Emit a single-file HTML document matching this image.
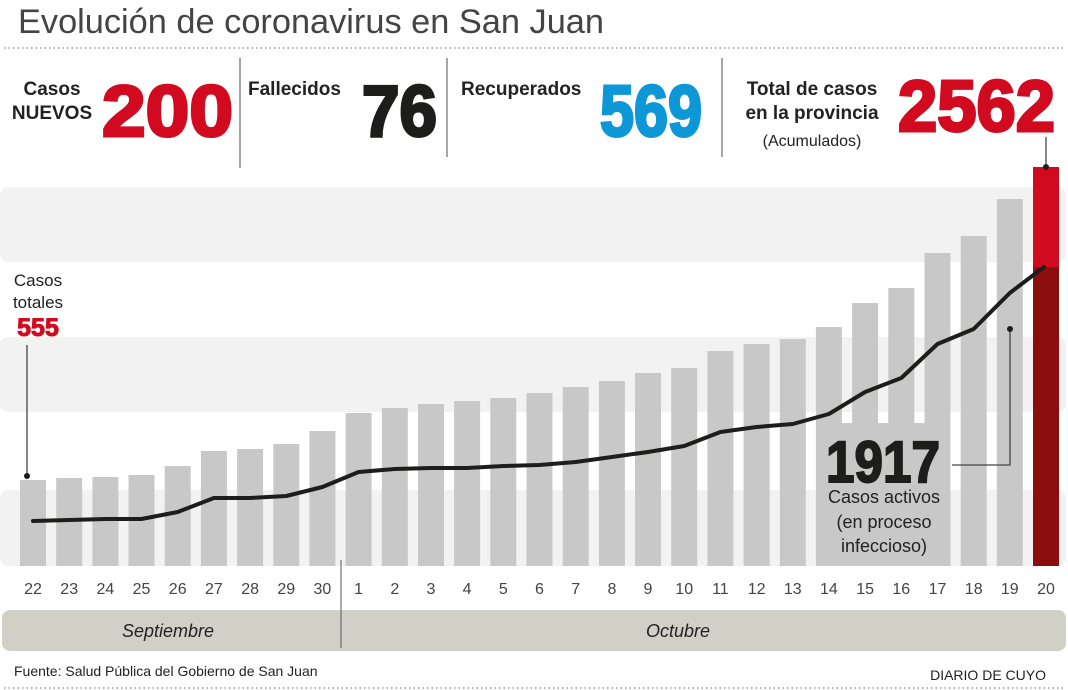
<!DOCTYPE html>
<html><head><meta charset="utf-8"><style>
html,body{margin:0;padding:0;background:#fff;}
svg{display:block;font-family:"Liberation Sans",Arial,sans-serif;}
</style></head><body>
<svg width="1068" height="690" viewBox="0 0 1068 690" xmlns="http://www.w3.org/2000/svg">
<text x="18" y="33" font-size="34" fill="#444" textLength="586" lengthAdjust="spacingAndGlyphs">Evolución de coronavirus en San Juan</text>
<line x1="4" y1="48" x2="1066" y2="48" stroke="#999" stroke-width="1.5" stroke-dasharray="1.5 3"/>

<g font-weight="bold" font-size="19" fill="#222">
<text x="52" y="95" text-anchor="middle">Casos</text>
<text x="52" y="119" text-anchor="middle">NUEVOS</text>
<text x="248" y="95">Fallecidos</text>
<text x="461" y="95">Recuperados</text>
<text x="812" y="95" text-anchor="middle">Total de casos</text>
<text x="812" y="119" text-anchor="middle">en la provincia</text>
</g>
<text x="812" y="146" text-anchor="middle" font-size="16" fill="#222">(Acumulados)</text>
<g font-weight="900" font-size="72" font-family="'Liberation Sans',Arial,sans-serif">
<text x="102" y="136" fill="#d20a20" textLength="131" lengthAdjust="spacingAndGlyphs" stroke="#d20a20" stroke-width="3">200</text>
<text x="362" y="136" fill="#1d1d1b" textLength="75" lengthAdjust="spacingAndGlyphs" stroke="#1d1d1b" stroke-width="3">76</text>
<text x="600" y="136" fill="#0e97d6" textLength="102" lengthAdjust="spacingAndGlyphs" stroke="#0e97d6" stroke-width="3">569</text>
<text x="898" y="131" fill="#d20a20" textLength="157" lengthAdjust="spacingAndGlyphs" stroke="#d20a20" stroke-width="3">2562</text>
</g>
<g stroke="#888" stroke-width="1.5">
<line x1="240" y1="58" x2="240" y2="168"/>
<line x1="447" y1="58" x2="447" y2="157"/>
<line x1="722" y1="58" x2="722" y2="157"/>
</g>

<g fill="#f2f2f2">
<rect x="0" y="187" width="1066" height="75" rx="8"/>
<rect x="0" y="337" width="1066" height="75" rx="8"/>
<rect x="0" y="490" width="1066" height="76" rx="8"/>
</g>
<rect x="817" y="423" width="133" height="143" fill="#c8c8c8"/>
<g fill="#c8c8c8">
<rect x="20" y="480" width="26" height="86"/>
<rect x="56.2" y="478" width="26" height="88"/>
<rect x="92.4" y="477" width="26" height="89"/>
<rect x="128.5" y="475" width="26" height="91"/>
<rect x="164.7" y="466" width="26" height="100"/>
<rect x="200.9" y="451" width="26" height="115"/>
<rect x="237.1" y="449" width="26" height="117"/>
<rect x="273.3" y="444" width="26" height="122"/>
<rect x="309.4" y="431" width="26" height="135"/>
<rect x="345.6" y="413" width="26" height="153"/>
<rect x="381.8" y="408" width="26" height="158"/>
<rect x="418" y="404" width="26" height="162"/>
<rect x="454.1" y="401" width="26" height="165"/>
<rect x="490.3" y="398" width="26" height="168"/>
<rect x="526.5" y="393" width="26" height="173"/>
<rect x="562.7" y="387" width="26" height="179"/>
<rect x="598.9" y="381" width="26" height="185"/>
<rect x="635" y="373" width="26" height="193"/>
<rect x="671.2" y="368" width="26" height="198"/>
<rect x="707.4" y="351" width="26" height="215"/>
<rect x="743.6" y="344" width="26" height="222"/>
<rect x="779.8" y="339" width="26" height="227"/>
<rect x="815.9" y="327" width="26" height="239"/>
<rect x="852.1" y="303" width="26" height="263"/>
<rect x="888.3" y="288" width="26" height="278"/>
<rect x="924.5" y="253" width="26" height="313"/>
<rect x="960.7" y="236" width="26" height="330"/>
<rect x="996.8" y="199" width="26" height="367"/>
</g>
<rect x="1033" y="167" width="26" height="100" fill="#d20a20"/>
<rect x="1033" y="267" width="26" height="299" fill="#8b0d0e"/>

<polyline fill="none" stroke="#1d1d1b" stroke-width="4" stroke-linejoin="round" stroke-linecap="round"
points="33,521 69.2,520 105.4,519 141.5,519 177.7,512 213.9,498 250.1,498 286.3,496 322.4,487 358.6,472 394.8,469 431,468 467.1,468 503.3,466 539.5,465 575.7,462 611.9,457 648,452 684.2,446 720.4,432 756.6,427 792.8,424 828.9,414 865.1,392 901.3,378 937.5,344 973.7,329 1009.8,293 1044,267"/>

<g stroke="#444" stroke-width="1.3" fill="none">
<line x1="27" y1="345" x2="27" y2="476"/>
<polyline points="952,465 1010,465 1010,329"/>
<line x1="1046" y1="137" x2="1046" y2="167"/>
</g>
<g fill="#1d1d1b">
<circle cx="27" cy="476" r="3"/>
<circle cx="1010" cy="329" r="3"/>
<circle cx="1046" cy="167" r="3"/>
</g>

<g font-size="17" fill="#222" text-anchor="middle">
<text x="38" y="286">Casos</text>
<text x="38" y="308">totales</text>
</g>
<text x="38" y="336" text-anchor="middle" font-size="25" font-weight="900" fill="#d20a20" stroke="#d20a20" stroke-width="1">555</text>

<text x="826" y="482" font-size="58" font-weight="900" fill="#1d1d1b" stroke="#1d1d1b" stroke-width="2" textLength="114" lengthAdjust="spacingAndGlyphs">1917</text>
<g font-size="18" fill="#222" text-anchor="middle">
<text x="884" y="503">Casos activos</text>
<text x="884" y="528">(en proceso</text>
<text x="884" y="552">infeccioso)</text>
</g>

<g font-size="16" fill="#444" text-anchor="middle">
<text x="33" y="594">22</text><text x="69.2" y="594">23</text><text x="105.4" y="594">24</text><text x="141.5" y="594">25</text><text x="177.7" y="594">26</text><text x="213.9" y="594">27</text><text x="250.1" y="594">28</text><text x="286.3" y="594">29</text><text x="322.4" y="594">30</text>
<text x="358.6" y="594">1</text><text x="394.8" y="594">2</text><text x="431" y="594">3</text><text x="467.1" y="594">4</text><text x="503.3" y="594">5</text><text x="539.5" y="594">6</text><text x="575.7" y="594">7</text><text x="611.9" y="594">8</text><text x="648" y="594">9</text><text x="684.2" y="594">10</text><text x="720.4" y="594">11</text><text x="756.6" y="594">12</text><text x="792.8" y="594">13</text><text x="828.9" y="594">14</text><text x="865.1" y="594">15</text><text x="901.3" y="594">16</text><text x="937.5" y="594">17</text><text x="973.7" y="594">18</text><text x="1009.8" y="594">19</text><text x="1046" y="594">20</text>
</g>

<rect x="2" y="610" width="1064" height="41" rx="8" fill="#d1d0c6"/>
<line x1="341" y1="560" x2="341" y2="648" stroke="#555" stroke-width="1"/>
<g font-size="18" font-style="italic" fill="#222" text-anchor="middle">
<text x="168" y="637">Septiembre</text>
<text x="678" y="637">Octubre</text>
</g>

<text x="14" y="676" font-size="14" fill="#222">Fuente: Salud Pública del Gobierno de San Juan</text>
<text x="1046" y="680" font-size="14" fill="#222" text-anchor="end">DIARIO DE CUYO</text>
<line x1="4" y1="688" x2="1066" y2="688" stroke="#999" stroke-width="1.5" stroke-dasharray="1.5 3"/>
</svg>
</body></html>
